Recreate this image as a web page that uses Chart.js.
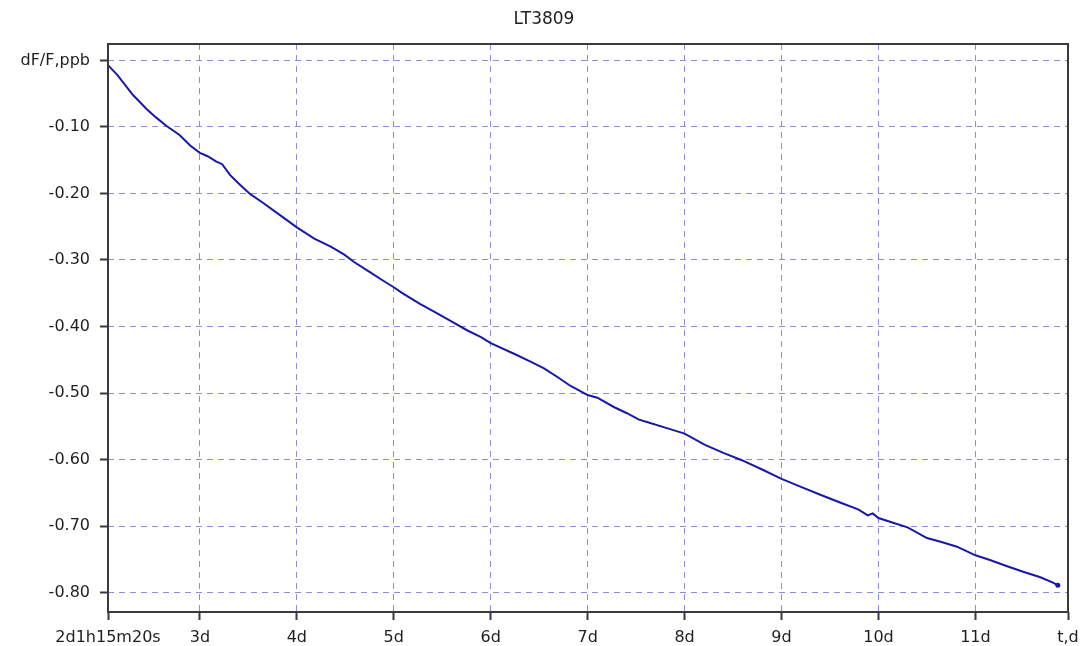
<!DOCTYPE html>
<html>
<head>
<meta charset="utf-8">
<title>LT3809</title>
<script src="https://cdn.jsdelivr.net/npm/chart.js@4"></script>
<style>
  html, body { margin: 0; padding: 0; background: #fff; }
  #wrap { width: 1080px; height: 646px; position: relative; }
</style>
</head>
<body>
<div id="wrap"><canvas id="driftChart"></canvas></div>
<script>
// time in days
const timeDays = [
  2.052, 2.15, 2.31, 2.45, 2.55, 2.66, 2.79, 2.90, 3.00, 3.08,
  3.17, 3.23, 3.31, 3.40, 3.52, 3.65, 3.83, 4.00, 4.18, 4.35,
  4.49, 4.59, 4.75, 4.90, 5.00, 5.08, 5.27, 5.42, 5.59, 5.76,
  5.90, 6.00, 6.24, 6.40, 6.55, 6.70, 6.82, 7.00, 7.10, 7.27,
  7.40, 7.53, 7.62, 7.80, 8.00, 8.21, 8.40, 8.59, 8.80, 9.00,
  9.20, 9.40, 9.61, 9.79, 9.89, 9.94, 10.00, 10.15, 10.30, 10.50,
  10.65, 10.81, 11.00, 11.15, 11.32, 11.50, 11.67, 11.80, 11.85
];
// relative frequency drift dF/F, ppb
const driftPpb = [
  -0.007, -0.022, -0.052, -0.073, -0.086, -0.099, -0.112, -0.128, -0.139, -0.144,
  -0.152, -0.156, -0.172, -0.185, -0.201, -0.214, -0.233, -0.251, -0.268, -0.280,
  -0.292, -0.303, -0.318, -0.332, -0.341, -0.349, -0.366, -0.378, -0.392, -0.406,
  -0.416, -0.425, -0.441, -0.452, -0.463, -0.477, -0.489, -0.503, -0.507, -0.521,
  -0.530, -0.540, -0.544, -0.552, -0.561, -0.578, -0.590, -0.601, -0.615, -0.629,
  -0.641, -0.653, -0.665, -0.675, -0.684, -0.681, -0.688, -0.695, -0.702, -0.718,
  -0.724, -0.731, -0.744, -0.751, -0.760, -0.769, -0.777, -0.785, -0.789
];

const xStart = 2.0523;      // 2d1h15m20s
const xEnd = 11.955;
const xDayTicks = [3, 4, 5, 6, 7, 8, 9, 10, 11];
const yTicks = [0, -0.1, -0.2, -0.3, -0.4, -0.5, -0.6, -0.7, -0.8];
const yMin = -0.8292;
const yMax = 0.0247;

const gridColor = '#8c8cd8';
const axisColor = '#3a3a3a';
const lineColor = '#1818a8';
const labelFont = { family: 'DejaVu Sans', size: 16 };

// frame round the plot area + title above it
const frame = {
  id: 'frame',
  afterDraw(chart) {
    const a = chart.chartArea;
    const c = chart.ctx;
    c.save();
    c.strokeStyle = axisColor;
    c.lineWidth = 2;
    c.strokeRect(a.left, a.top, a.right - a.left, a.bottom - a.top);
    c.fillStyle = '#1e1e1e';
    c.font = '17px "DejaVu Sans"';
    c.textAlign = 'center';
    c.textBaseline = 'middle';
    c.fillText('LT3809', 544, 20);
    c.restore();
  }
};

const points = timeDays.map((t, i) => ({ x: t, y: driftPpb[i] }));
const lastIdx = points.length - 1;

new Chart(document.getElementById('driftChart').getContext('2d'), {
  type: 'line',
  data: {
    datasets: [{
      label: 'LT3809',
      data: points,
      borderColor: lineColor,
      backgroundColor: lineColor,
      borderWidth: 2,
      tension: 0,
      fill: false,
      pointRadius: ctx => ctx.dataIndex === lastIdx ? 2.5 : 0,
      pointBorderWidth: 0
    }]
  },
  options: {
    responsive: true,
    maintainAspectRatio: false,
    animation: false,
    layout: { padding: { top: 44, right: 12 } },
    plugins: {
      legend: { display: false },
      tooltip: { enabled: false },
      title: { display: false }
    },
    scales: {
      x: {
        type: 'linear',
        min: xStart,
        max: xEnd,
        afterFit(scale) {
          scale.height = 34;
          scale.paddingLeft = 0;
          scale.paddingRight = 0;
        },
        afterBuildTicks(scale) {
          scale.ticks = [xStart, ...xDayTicks, xEnd].map(v => ({ value: v }));
        },
        ticks: {
          autoSkip: false,
          maxRotation: 0,
          padding: 8,
          color: '#1e1e1e',
          font: labelFont,
          callback: (v, i, ticks) => {
            if (i === 0) return '2d1h15m20s';
            if (i === ticks.length - 1) return 't,d';
            return v + 'd';
          }
        },
        grid: {
          color: ctx => (ctx.tick && (ctx.tick.value === xStart || ctx.tick.value === xEnd)) ? 'rgba(0,0,0,0)' : gridColor,
          lineWidth: 1,
          tickLength: 8,
          tickColor: axisColor,
          tickWidth: 2,
          tickBorderDash: []
        },
        border: { display: false, dash: [6, 5] }
      },
      y: {
        type: 'linear',
        min: yMin,
        max: yMax,
        afterFit(scale) {
          scale.width = 108;
          scale.paddingTop = 0;
          scale.paddingBottom = 0;
        },
        afterBuildTicks(scale) {
          scale.ticks = yTicks.map(v => ({ value: v }));
        },
        ticks: {
          padding: 10,
          color: '#1e1e1e',
          font: labelFont,
          callback: v => Math.abs(v) < 1e-9 ? 'dF/F,ppb' : v.toFixed(2)
        },
        grid: {
          color: gridColor,
          lineWidth: 1,
          tickLength: 8,
          tickColor: axisColor,
          tickWidth: 2,
          tickBorderDash: []
        },
        border: { display: false, dash: [6, 5] }
      }
    }
  },
  plugins: [frame]
});
</script>
</body>
</html>
